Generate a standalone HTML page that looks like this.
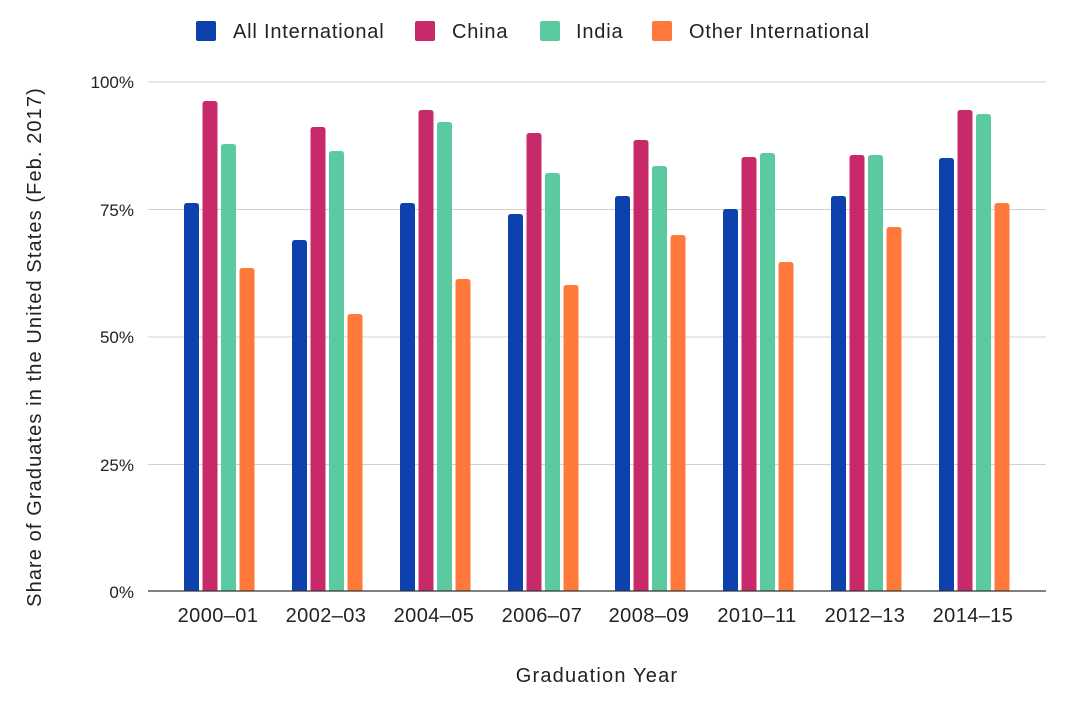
<!DOCTYPE html>
<html><head><meta charset="utf-8"><style>
body{margin:0;background:#fff;}
text{font-family:"Liberation Sans",Arial,sans-serif;fill:#222;}
</style></head><body>
<svg width="1080" height="705" xmlns="http://www.w3.org/2000/svg">
<g stroke="#d0d0d0" stroke-width="1">
<line x1="148" x2="1046" y1="82" y2="82"/>
<line x1="148" x2="1046" y1="209.5" y2="209.5"/>
<line x1="148" x2="1046" y1="337" y2="337"/>
<line x1="148" x2="1046" y1="464.5" y2="464.5"/>
</g>
<g font-size="17" text-anchor="end">
<text x="134" y="88">100%</text>
<text x="134" y="216">75%</text>
<text x="134" y="343">50%</text>
<text x="134" y="471">25%</text>
<text x="134" y="598">0%</text>
</g>
<g id="bars"></g>
<line x1="148" x2="1046" y1="591" y2="591" stroke="#333" stroke-width="1.2"/>
<g font-size="20" text-anchor="middle" letter-spacing="0.4">
<text x="218" y="622">2000–01</text>
<text x="326" y="622">2002–03</text>
<text x="434" y="622">2004–05</text>
<text x="542" y="622">2006–07</text>
<text x="649" y="622">2008–09</text>
<text x="757" y="622">2010–11</text>
<text x="865" y="622">2012–13</text>
<text x="973" y="622">2014–15</text>
<text x="597" y="682" letter-spacing="1.2">Graduation Year</text>
</g>
<text font-size="20" letter-spacing="1.1" text-anchor="middle" transform="translate(41,347) rotate(-90)">Share of Graduates in the United States (Feb. 2017)</text>
<g font-size="20" letter-spacing="0.8">
<rect x="196" y="21" width="20" height="20" rx="2" fill="#0d41ad"/><text x="233" y="38">All International</text>
<rect x="415" y="21" width="20" height="20" rx="2" fill="#c8296b"/><text x="452" y="38">China</text>
<rect x="540" y="21" width="20" height="20" rx="2" fill="#5ccaa0"/><text x="576" y="38">India</text>
<rect x="652" y="21" width="20" height="20" rx="2" fill="#ff7a3a"/><text x="689" y="38">Other International</text>
</g>
</svg>
<script>
var tops=[[203,101,144,268],[240,127,151,314],[203,110,122,279],[214,133,173,285],[196,140,166,235],[209,157,153,262],[196,155,155,227],[158,110,114,203]];
var cols=["#0d41ad","#c8296b","#5ccaa0","#ff7a3a"];
var centers=[218,326,434,542,649,757,865,973];
var g=document.getElementById("bars"),s="";
for(var i=0;i<8;i++)for(var j=0;j<4;j++){var x=centers[i]-34+j*18.5,t=tops[i][j];
s+='<path d="M'+x+' 591V'+(t+3)+'Q'+x+' '+t+' '+(x+3)+' '+t+'H'+(x+12)+'Q'+(x+15)+' '+t+' '+(x+15)+' '+(t+3)+'V591Z" fill="'+cols[j]+'"/>';}
g.innerHTML=s;
</script>
</body></html>
